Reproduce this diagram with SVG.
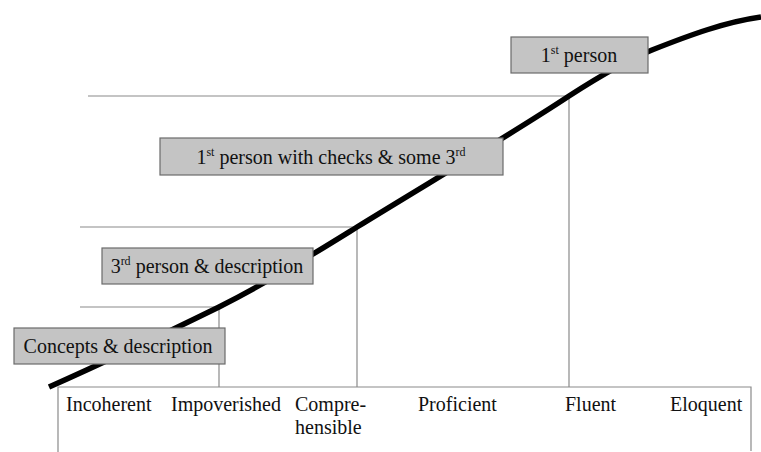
<svg xmlns="http://www.w3.org/2000/svg" width="761" height="452" viewBox="0 0 761 452">
<style>
.guide{stroke:#8a8a8a;stroke-width:1.2;fill:none}
.curve{stroke:#000;stroke-width:5.5;fill:none;stroke-linecap:butt}
.box{fill:#c4c4c4;stroke:#6b6b6b;stroke-width:1.2}
.t{font-family:"Liberation Serif","Times New Roman",serif;font-size:20px;fill:#111}
.m{text-anchor:middle}
.sup{font-size:12px}
</style>
<rect width="761" height="452" fill="#fff"/>
<g id="axis">
<path class="guide" d="M58,452 V387 H751 V451"/>
<text class="t" x="66" y="411">Incoherent</text>
<text class="t" x="171" y="411">Impoverished</text>
<text class="t" x="295" y="411">Compre-</text>
<text class="t" x="295" y="434">hensible</text>
<text class="t" x="418" y="411">Proficient</text>
<text class="t" x="565" y="411">Fluent</text>
<text class="t" x="670" y="411">Eloquent</text>
</g>
<g id="connectors">
<path class="guide" d="M80,307 H219 V387"/>
<path class="guide" d="M80,227 H357 V387"/>
<path class="guide" d="M88,96 H569 V387"/>
<path class="curve" d="M49,387 C110,360 170,331 219,307 C270,281 310,256 357,227 C430,182 510,135 569,96 C600,76 625,61 652,50 C690,35 725,22 761,17"/>
</g>
<g id="n-concepts">
<rect class="box" x="14" y="328" width="211" height="36"/>
<text class="t m" x="118" y="353">Concepts &amp; description</text>
</g>
<g id="n-third">
<rect class="box" x="102" y="248" width="211" height="36"/>
<text class="t m" x="207" y="273">3<tspan class="sup" dy="-8">rd</tspan><tspan dy="8"> person &amp; description</tspan></text>
</g>
<g id="n-first-checks">
<rect class="box" x="160" y="138" width="343" height="37"/>
<text class="t m" x="331" y="164">1<tspan class="sup" dy="-8">st</tspan><tspan dy="8"> person with checks &amp; some 3</tspan><tspan class="sup" dy="-8">rd</tspan></text>
</g>
<g id="n-first">
<rect class="box" x="511" y="37" width="137" height="36"/>
<text class="t m" x="579" y="62">1<tspan class="sup" dy="-8">st</tspan><tspan dy="8"> person</tspan></text>
</g>
</svg>
